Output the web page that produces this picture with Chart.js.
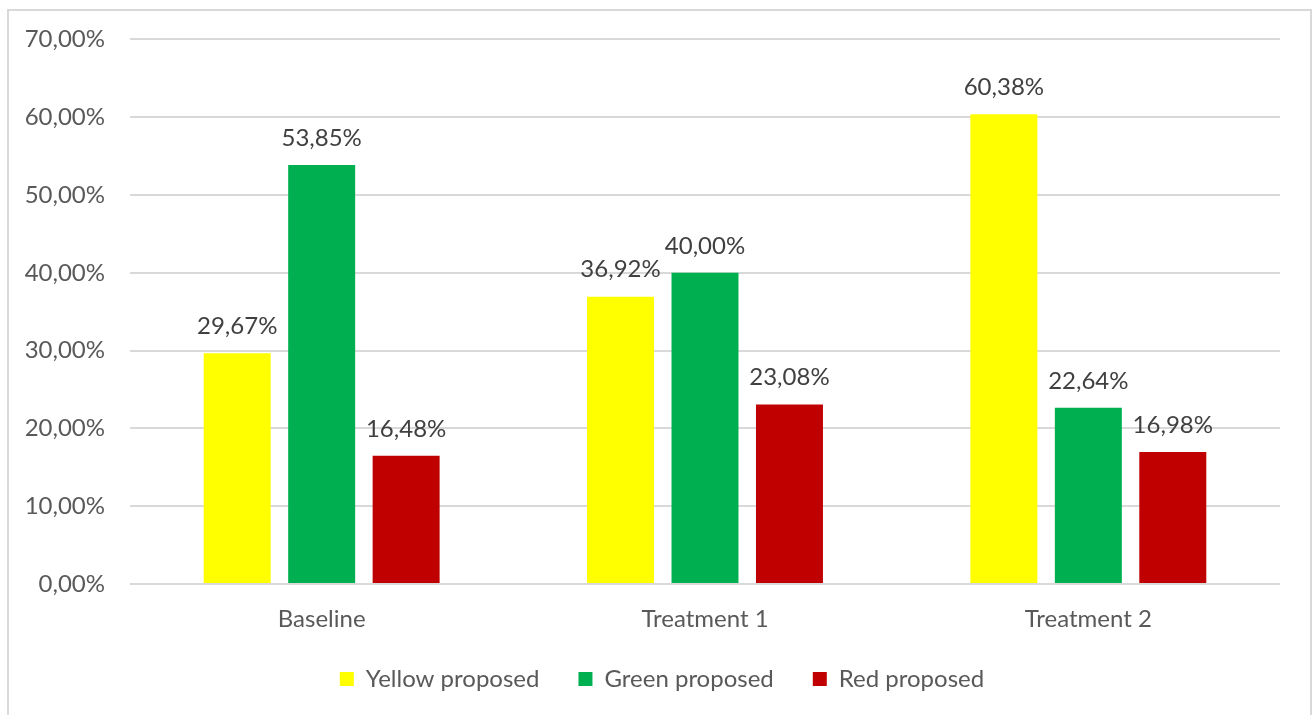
<!DOCTYPE html>
<html>
<head>
<meta charset="utf-8">
<script src="https://cdn.jsdelivr.net/npm/chart.js@4/dist/chart.umd.min.js"></script>
<style>
  html, body { margin: 0; padding: 0; background: #ffffff; overflow: hidden; }
  #wrap { position: relative; width: 1314px; height: 715px; }
  #frame { position: absolute; left: 7px; top: 9px; width: 1305px; height: 720px; box-sizing: border-box; border: 2px solid #d9d9d9; pointer-events: none; }
  canvas { position: absolute; left: 0; top: 0; }
</style>
</head>
<body>
<div id="wrap">
  <canvas id="c" width="1314" height="715"></canvas>
  <div id="frame"></div>
</div>
<script>
const categories = ["Baseline", "Treatment 1", "Treatment 2"];
const seriesNames = ["Yellow proposed", "Green proposed", "Red proposed"];
const yellowValues = [29.67, 36.92, 60.38];
const greenValues = [53.85, 40.00, 22.64];
const redValues = [16.48, 23.08, 16.98];
const seriesColors = ["#FFFF00", "#00B050", "#C00000"];
const yTickLabels = ["0,00%", "10,00%", "20,00%", "30,00%", "40,00%", "50,00%", "60,00%", "70,00%"];

const FONT = "Lato";
const FS = 24;

function fmt(v) {
  return v.toFixed(2).replace(".", ",") + "%";
}

const valueLabels = {
  id: "valueLabels",
  afterDatasetsDraw(chart) {
    const ctx = chart.ctx;
    ctx.save();
    ctx.font = FS + "px " + FONT;
    ctx.fillStyle = "#404040";
    ctx.textAlign = "center";
    ctx.textBaseline = "middle";
    chart.data.datasets.forEach((ds, i) => {
      const meta = chart.getDatasetMeta(i);
      meta.data.forEach((bar, j) => {
        ctx.fillText(fmt(ds.data[j]), bar.x, bar.y - 27);
      });
    });
    ctx.restore();
  }
};

// nudge the legend block to sit where the reference legend sits
const legendShift = {
  id: "legendShift",
  afterLayout(chart) {
    const lg = chart.legend;
    if (lg) {
      lg.left += 22; lg.right += 22;
      lg.top -= 12; lg.bottom -= 12;
    }
  }
};

const allSeries = [yellowValues, greenValues, redValues];

new Chart(document.getElementById("c"), {
  type: "bar",
  data: {
    labels: categories,
    datasets: allSeries.map((vals, i) => ({
      label: seriesNames[i],
      data: vals,
      backgroundColor: seriesColors[i],
      borderWidth: 0,
      categoryPercentage: 0.661,
      barPercentage: 0.793
    }))
  },
  options: {
    responsive: false,
    animation: false,
    devicePixelRatio: 1,
    layout: { padding: { top: 38, right: 34, left: 0, bottom: 2 } },
    plugins: {
      tooltip: { enabled: false },
      legend: {
        position: "bottom",
        labels: {
          font: { family: FONT, size: FS },
          color: "#595959",
          boxWidth: 14,
          boxHeight: 14,
          padding: 39
        }
      }
    },
    scales: {
      x: {
        grid: { display: false, drawTicks: false },
        border: { display: false },
        ticks: {
          font: { family: FONT, size: FS },
          color: "#595959",
          padding: 21
        },
        afterFit(scale) { scale.height = 56; }
      },
      y: {
        min: 0,
        max: 70,
        grid: { color: "#d9d9d9", lineWidth: 2, drawTicks: false },
        border: { display: false },
        ticks: {
          stepSize: 10,
          font: { family: FONT, size: FS },
          color: "#595959",
          padding: 25,
          callback: (v, i) => yTickLabels[i]
        },
        afterFit(scale) { scale.width = 130; }
      }
    }
  },
  plugins: [valueLabels, legendShift]
});
</script>
</body>
</html>
